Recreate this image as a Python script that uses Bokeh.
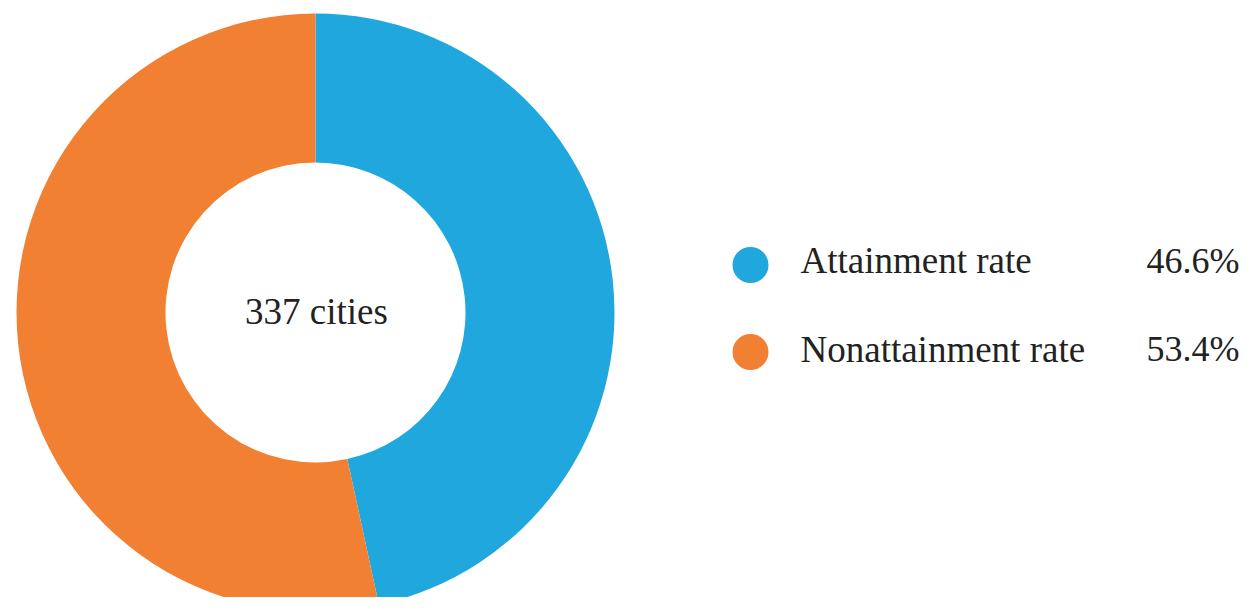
import math
from bokeh.plotting import figure
from bokeh.models import ColumnDataSource, Range1d
from bokeh.core.properties import value
from bokeh.embed import file_html
from bokeh.resources import INLINE

categories = ["Attainment rate", "Nonattainment rate"]
shares = [46.6, 53.4]
labels = ["46.6%", "53.4%"]
colors = ["#20A7DE", "#F28033"]
center_label = "337 cities"

W, H = 1242, 597
FONT = value("Liberation Serif")
p = figure(width=W, height=H, output_backend="svg", toolbar_location=None,
           x_range=Range1d(0, W), y_range=Range1d(0, H), min_border=0)
p.axis.visible = False
p.grid.visible = False
p.outline_line_color = None
p.background_fill_color = "white"

cx, cy = 315, 285
total = sum(shares)
starts, ends = [], []
a = math.pi / 2
for s in shares:
    starts.append(a)
    a -= s / total * 2 * math.pi
    ends.append(a)

src = ColumnDataSource(dict(start=starts, end=ends, color=colors,
                            cat=categories, lab=labels))
p.annular_wedge(x=cx, y=cy, inner_radius=150, outer_radius=299,
                inner_radius_units="screen", outer_radius_units="screen",
                start_angle="start", end_angle="end", direction="clock",
                fill_color="color", line_color=None, source=src)

p.text(x=[cx + 1], y=[cy + 1], text=[center_label], text_align="center",
       text_baseline="middle", text_font=FONT,
       text_font_size="37px", text_color="#222222")

leg = ColumnDataSource(dict(cy=[332.5, 245.5], ty=[337, 248.5], color=colors,
                            cat=categories, lab=labels))
p.scatter(x=750, y="cy", size=36, fill_color="color", line_color=None, source=leg)
p.text(x=800, y="ty", text="cat", text_align="left", text_baseline="middle",
       text_font=FONT, text_font_size="37px",
       text_color="#222222", source=leg)
p.text(x=1146, y="ty", text="lab", text_align="left", text_baseline="middle",
       text_font=FONT, text_font_size="36px",
       text_color="#222222", source=leg)

open("out.html", "w").write(file_html(p, INLINE))
